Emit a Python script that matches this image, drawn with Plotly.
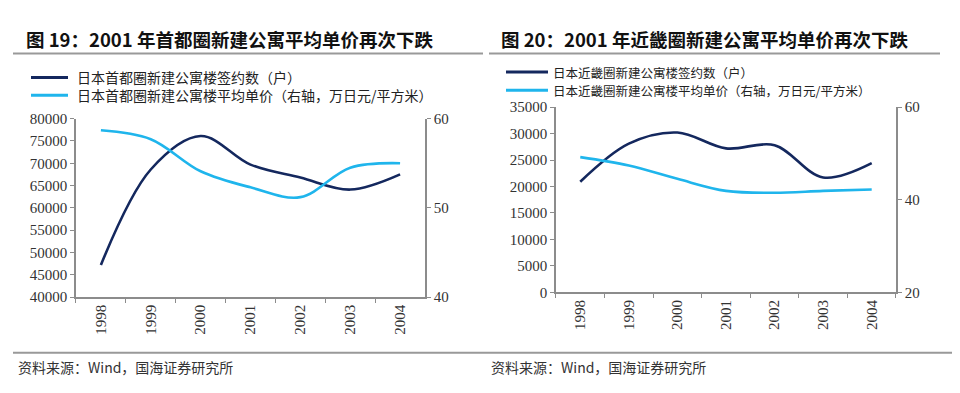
import plotly.graph_objects as go

years = ["1998", "1999", "2000", "2001", "2002", "2003", "2004"]

# 图19 首都圈
tokyo_units = [47200, 68600, 76100, 69700, 66800, 64100, 67500]
tokyo_price = [58.7, 57.7, 54.1, 52.3, 51.2, 54.5, 55.0]

# 图20 近畿圈
kinki_units = [20900, 28100, 30200, 27200, 27800, 21700, 24400]
kinki_price = [49.2, 47.4, 44.5, 41.9, 41.5, 41.9, 42.2]

left_names = ["日本首都圈新建公寓楼签约数（户）", "日本首都圈新建公寓楼平均单价（右轴，万日元/平方米）"]
right_names = ["日本近畿圈新建公寓楼签约数（户）", "日本近畿圈新建公寓楼平均单价（右轴，万日元/平方米）"]

DARK = "#14285e"
LIGHT = "#1fb5ec"
AXIS = "#8c8c8c"
TICKFONT = dict(family="Liberation Serif, Times New Roman, serif", size=15, color="#333333")
CJK = "Noto Sans CJK SC"

fig = go.Figure()

fig.add_trace(go.Scatter(x=years, y=tokyo_units, mode="lines", line=dict(color=DARK, width=2.6, shape="spline", smoothing=1.0),
                         name=left_names[0], xaxis="x", yaxis="y"))
fig.add_trace(go.Scatter(x=years, y=tokyo_price, mode="lines", line=dict(color=LIGHT, width=2.6, shape="spline", smoothing=1.0),
                         name=left_names[1], xaxis="x", yaxis="y2"))
fig.add_trace(go.Scatter(x=years, y=kinki_units, mode="lines", line=dict(color=DARK, width=2.6, shape="spline", smoothing=1.0),
                         name=right_names[0], xaxis="x3", yaxis="y3"))
fig.add_trace(go.Scatter(x=years, y=kinki_price, mode="lines", line=dict(color=LIGHT, width=2.6, shape="spline", smoothing=1.0),
                         name=right_names[1], xaxis="x3", yaxis="y4"))

common_x = dict(type="category", showline=True, linecolor=AXIS, linewidth=1.5, ticks="outside", ticklen=4,
                tickcolor=AXIS, tickangle=-90, tickfont=TICKFONT, showgrid=False, zeroline=False,
                tickson="boundaries", range=[-0.5, 6.5], fixedrange=True)
common_y = dict(showline=True, linecolor=AXIS, linewidth=1.5, ticks="outside", ticklen=4, tickcolor=AXIS,
                tickfont=TICKFONT, showgrid=False, zeroline=False, fixedrange=True, tickformat="d")

fig.update_layout(
    width=960, height=393, margin=dict(l=0, r=0, t=0, b=0),
    paper_bgcolor="white", plot_bgcolor="white", showlegend=False,
    xaxis=dict(common_x, domain=[0.0708, 0.4344], anchor="y"),
    yaxis=dict(common_y, domain=[0.2545, 0.7277], range=[40000, 80000], dtick=5000, anchor="x"),
    yaxis2=dict(common_y, overlaying="y", side="right", range=[40, 60], dtick=10, anchor="x"),
    xaxis3=dict(common_x, domain=[0.5708, 0.925], anchor="y3"),
    yaxis3=dict(common_y, domain=[0.2672, 0.7583], range=[0, 35000], dtick=5000, anchor="x3"),
    yaxis4=dict(common_y, overlaying="y3", side="right", range=[20, 60], dtick=20, anchor="x3"),
)

def px(x, y):
    return x / 960, 1 - y / 393

# left legend: sample lines as shapes, two-line label block as one annotation
for color, yy in zip([DARK, LIGHT], [64, 82.5]):
    a, b = px(23, yy)
    c, _ = px(60, yy)
    fig.add_shape(type="line", xref="paper", yref="paper", x0=a, x1=c, y0=b, y1=b,
                  line=dict(color=color, width=3))
t, mid = px(68, (64 + 82.5) / 2)
fig.add_annotation(text="<br>".join(left_names), x=t, y=mid, xref="paper", yref="paper",
                   xanchor="left", yanchor="middle", align="left",
                   showarrow=False, borderpad=0, font=dict(family=CJK, size=14, color="#222222"))

# right legend: one annotation per entry
for name, color, yy in zip(right_names, [DARK, LIGHT], [58.5, 77.5]):
    a, b = px(498, yy)
    c, _ = px(540, yy)
    fig.add_shape(type="line", xref="paper", yref="paper", x0=a, x1=c, y0=b, y1=b,
                  line=dict(color=color, width=3))
    t, _ = px(544, yy)
    fig.add_annotation(text=name, x=t, y=b, xref="paper", yref="paper", xanchor="left", yanchor="middle",
                       showarrow=False, borderpad=0, font=dict(family=CJK, size=12.5, color="#222222"))

# titles
for text, x0 in (("<b>图 19：2001 年首都圈新建公寓平均单价再次下跌</b>", 16),
                 ("<b>图 20：2001 年近畿圈新建公寓平均单价再次下跌</b>", 491)):
    xx, yy = px(x0, 24)
    fig.add_annotation(text=text, x=xx, y=yy, xref="paper", yref="paper", xanchor="left", yanchor="middle",
                       showarrow=False, font=dict(family=CJK, size=18.5, color="#111111"))
# sources
for x0 in (8, 481):
    xx, yy = px(x0, 366)
    fig.add_annotation(text="资料来源：Wind，国海证券研究所", x=xx, y=yy,
                       xref="paper", yref="paper", xanchor="left", yanchor="middle", showarrow=False,
                       font=dict(family=CJK, size=14, color="#333333"))
# rules
for x0, x1, y0 in ((5, 475, 39), (481, 932, 39), (5, 950, 351)):
    a, b = px(x0, y0)
    c, _ = px(x1, y0)
    fig.add_shape(type="line", xref="paper", yref="paper", x0=a, x1=c, y0=b, y1=b,
                  line=dict(color="#999999", width=2))

fig.write_html("out.html")
